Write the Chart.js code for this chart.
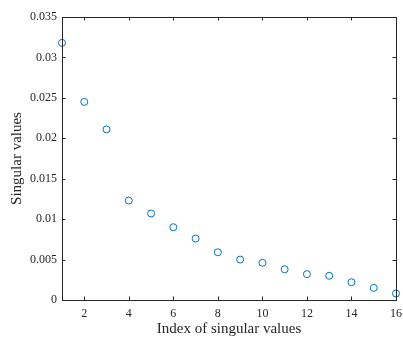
<!DOCTYPE html>
<html>
<head>
<meta charset="utf-8">
<script src="https://cdn.jsdelivr.net/npm/chart.js@4"></script>
<style>
  html, body { margin: 0; padding: 0; background: #fff; }
  #svChart { display: block; }
</style>
</head>
<body>
<canvas id="svChart" width="403" height="338"></canvas>
<script>
// Singular value spectrum, MATLAB-style scatter with open circles
const indices = [1, 2, 3, 4, 5, 6, 7, 8, 9, 10, 11, 12, 13, 14, 15, 16];
const singularValues = [0.0318, 0.0245, 0.0211, 0.0123, 0.0107, 0.0090, 0.0076, 0.0059,
                        0.0050, 0.0046, 0.0038, 0.0032, 0.0030, 0.0022, 0.0015, 0.0008];
const xTicks = [2, 4, 6, 8, 10, 12, 14, 16];
const yTicks = [0, 0.005, 0.01, 0.015, 0.02, 0.025, 0.03, 0.035];

const axisColor = "#262626";
const serif = "'Liberation Serif', 'DejaVu Serif', serif";

// box around the axes with inward tick marks on all four sides
const boxTicks = {
    id: "boxTicks",
    afterDraw(chart) {
        const { ctx, chartArea: a, scales } = chart;
        const len = 3.5;
        ctx.save();
        ctx.strokeStyle = axisColor;
        ctx.lineWidth = 1;
        ctx.strokeRect(Math.round(a.left) + 0.5, Math.round(a.top) + 0.5,
                       Math.round(a.right - a.left), Math.round(a.bottom - a.top));
        ctx.beginPath();
        xTicks.forEach(v => {
            const x = Math.round(scales.x.getPixelForValue(v)) + 0.5;
            ctx.moveTo(x, a.bottom); ctx.lineTo(x, a.bottom - len);
            ctx.moveTo(x, a.top); ctx.lineTo(x, a.top + len);
        });
        yTicks.forEach(v => {
            const y = Math.round(scales.y.getPixelForValue(v)) + 0.5;
            ctx.moveTo(a.left, y); ctx.lineTo(a.left + len, y);
            ctx.moveTo(a.right, y); ctx.lineTo(a.right - len, y);
        });
        ctx.stroke();
        ctx.restore();
    }
};

// no extra room for overhanging tick labels; the layout padding sets the box
const noLabelPadding = s => {
    s.paddingLeft = s.paddingRight = s.paddingTop = s.paddingBottom = 0;
};

new Chart(document.getElementById("svChart"), {
    type: "scatter",
    data: {
        datasets: [{
            data: indices.map((x, i) => ({ x, y: singularValues[i] })),
            pointStyle: "circle",
            pointRadius: 3.5,
            pointHoverRadius: 3.5,
            borderWidth: 1,
            borderColor: "#0072BD",
            backgroundColor: "rgba(0,0,0,0)",
            clip: false
        }]
    },
    options: {
        responsive: false,
        animation: false,
        events: [],
        layout: { padding: { left: 0, top: 17, right: 7, bottom: 0 } },
        plugins: { legend: { display: false }, tooltip: { enabled: false } },
        scales: {
            x: {
                type: "linear", min: 1, max: 16,
                afterFit: s => { s.height = 38; noLabelPadding(s); },
                afterBuildTicks: s => { s.ticks = xTicks.map(value => ({ value })); },
                grid: { display: false, drawTicks: false },
                border: { display: false },
                ticks: { padding: 7, color: axisColor, font: { family: serif, size: 12 }, maxRotation: 0 },
                title: { display: true, text: "Index of singular values", color: axisColor,
                         font: { family: serif, size: 15 }, padding: { top: 1, bottom: 0 } }
            },
            y: {
                type: "linear", min: 0, max: 0.035,
                afterFit: s => { s.width = 62; noLabelPadding(s); },
                afterBuildTicks: s => { s.ticks = yTicks.map(value => ({ value })); },
                grid: { display: false, drawTicks: false },
                border: { display: false },
                ticks: { padding: 5, color: axisColor, font: { family: serif, size: 12 },
                         callback: v => String(+v.toFixed(3)) },
                title: { display: true, text: "Singular values", color: axisColor,
                         font: { family: serif, size: 15 }, padding: { top: 8, bottom: 0 } }
            }
        }
    },
    plugins: [boxTicks]
});
</script>
</body>
</html>
